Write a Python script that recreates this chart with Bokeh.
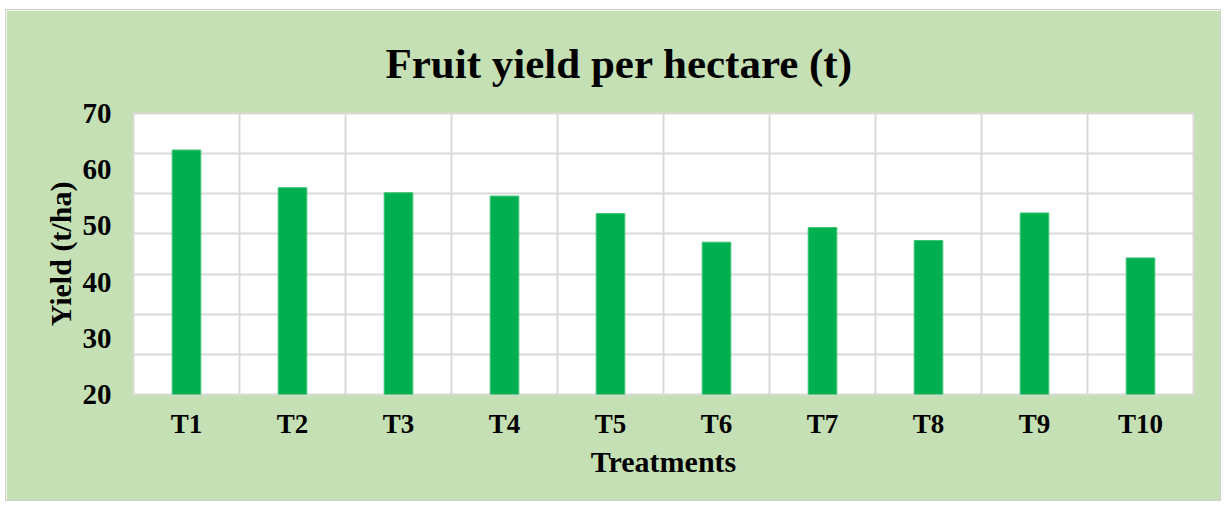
from bokeh.plotting import figure
from bokeh.models import FixedTicker, Range1d, FactorRange
from bokeh.embed import file_html
from bokeh.resources import INLINE

treatments = ["T1", "T2", "T3", "T4", "T5", "T6", "T7", "T8", "T9", "T10"]
yield_t_ha = [63.5, 56.8, 55.9, 55.3, 52.2, 47.1, 49.7, 47.4, 52.3, 44.3]
y_ticks = [20, 30, 40, 50, 60, 70]

FONT = "Liberation Serif"
GREEN_BG = "#c5e0b4"
GRID = "#d9d9d9"

p = figure(
    width=1216, height=492,
    x_range=FactorRange(factors=treatments),
    y_range=Range1d(20, 70),
    output_backend="svg", toolbar_location=None,
    min_border_left=127, min_border_right=29,
    min_border_top=102, min_border_bottom=108,
    title="Fruit yield per hectare (t)",
)
p.styles = {"border": "1px solid #d0d0d0", "margin-left": "5px", "margin-top": "9px"}
p.background_fill_color = "white"
p.border_fill_color = GREEN_BG
p.outline_line_color = GRID
p.outline_line_width = 2

p.title.text_font = FONT
p.title.text_font_size = "43px"
p.title.text_font_style = "bold"
p.title.text_color = "black"
p.title.align = "left"
p.title.offset = 252
p.title.standoff = 54

p.vbar(x=treatments, top=yield_t_ha, bottom=20, width=0.27,
       fill_color="#00b050", line_color="#3cc474", line_width=1)

# grids
p.xgrid.ticker = FixedTicker(ticks=list(range(1, len(treatments))))
p.xgrid.grid_line_color = GRID
p.xgrid.grid_line_width = 2
p.ygrid.ticker = FixedTicker(ticks=[20 + k * 50 / 7 for k in range(1, 7)])
p.ygrid.grid_line_color = GRID
p.ygrid.grid_line_width = 2

# axes
p.yaxis.ticker = FixedTicker(ticks=y_ticks)
for ax in (p.xaxis[0], p.yaxis[0]):
    ax.axis_line_color = None
    ax.major_tick_line_color = None
    ax.minor_tick_line_color = None
    ax.major_label_text_font = FONT
    ax.major_label_text_font_style = "bold"
    ax.major_label_text_color = "black"
    ax.axis_label_text_font = FONT
    ax.axis_label_text_font_style = "bold"
    ax.axis_label_text_color = "black"
    ax.axis_label_text_font_size = "30px"

p.xaxis.major_label_text_font_size = "27px"
p.yaxis.major_label_text_font_size = "29px"
p.xaxis.major_label_standoff = 8
p.yaxis.major_label_standoff = 16
p.xaxis.axis_label = "Treatments"
p.yaxis.axis_label = "Yield (t/ha)"
p.xaxis.axis_label_standoff = 3
p.yaxis.axis_label_standoff = 3

open("out.html", "w").write(file_html(p, INLINE))
